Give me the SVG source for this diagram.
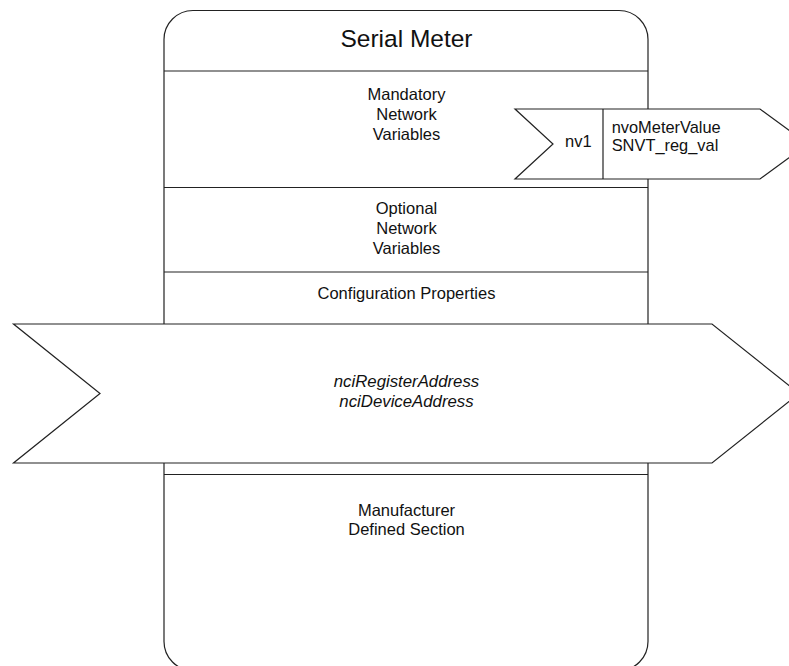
<svg xmlns="http://www.w3.org/2000/svg" width="789" height="666" viewBox="0 0 789 666">
<style>
.ln{fill:none;stroke:#222;stroke-width:1.2}
.sh{fill:#fff;stroke:#222;stroke-width:1.2}
.t{font-family:"Liberation Sans",Arial,sans-serif;font-size:16.5px;fill:#111;text-anchor:middle}
.ti{font-family:"Liberation Sans",Arial,sans-serif;font-size:16.8px;font-style:italic;fill:#111;text-anchor:middle}
.tl{font-family:"Liberation Sans",Arial,sans-serif;font-size:16.4px;fill:#111}
.h{font-family:"Liberation Sans",Arial,sans-serif;font-size:24.5px;fill:#111;text-anchor:middle}
</style>
<rect width="789" height="666" fill="#fff"/>
<g id="serial-meter">
<rect class="sh" x="164" y="10.5" width="484" height="660" rx="29" ry="29"/>
<text class="h" x="406.5" y="46.5">Serial Meter</text>
<line class="ln" x1="164" y1="71" x2="648" y2="71"/>
</g>
<g id="mandatory">
<text class="t" x="406.5" y="100">Mandatory</text>
<text class="t" x="406.5" y="120">Network</text>
<text class="t" x="406.5" y="140">Variables</text>
<line class="ln" x1="164" y1="187.5" x2="648" y2="187.5"/>
</g>
<g id="optional">
<text class="t" x="406.5" y="213.5">Optional</text>
<text class="t" x="406.5" y="234">Network</text>
<text class="t" x="406.5" y="254">Variables</text>
<line class="ln" x1="164" y1="272" x2="648" y2="272"/>
</g>
<g id="config">
<text class="t" x="406.5" y="298.5">Configuration Properties</text>
</g>
<g id="manufacturer">
<line class="ln" x1="164" y1="474.5" x2="648" y2="474.5"/>
<text class="t" x="406.5" y="516">Manufacturer</text>
<text class="t" x="406.5" y="535">Defined Section</text>
</g>
<g id="nv1">
<polygon class="sh" points="515,109 760,109 808,144 760,179 515,179 553,144"/>
<line class="ln" x1="603" y1="109" x2="603" y2="179"/>
<text class="t" x="578.3" y="146.7">nv1</text>
<text class="tl" x="611.7" y="132.5">nvoMeterValue</text>
<text class="tl" x="611.7" y="151">SNVT_reg_val</text>
</g>
<g id="config-props">
<polygon class="sh" points="13.5,324 712,324 799,393.5 712,463 13.5,463 100,393.5"/>
<text class="ti" x="406.5" y="386.5">nciRegisterAddress</text>
<text class="ti" x="406.5" y="406.7">nciDeviceAddress</text>
</g>
<g id="connectors"></g>
</svg>
